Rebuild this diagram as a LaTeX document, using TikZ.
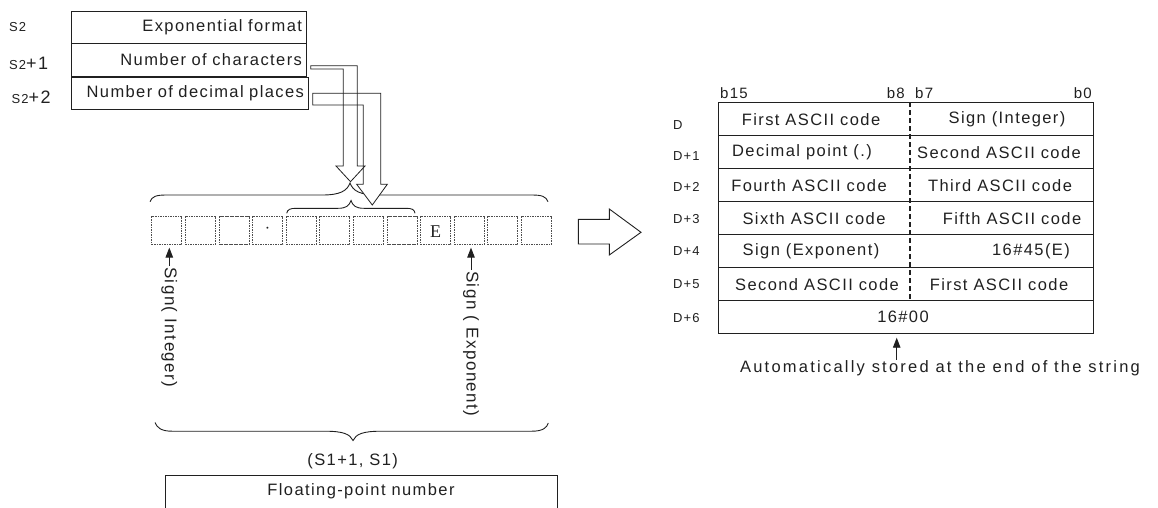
\documentclass[tikz,border=0pt]{standalone}
\usepackage{fontspec}
\setmainfont{Liberation Sans}[LetterSpace=8.5]
\newfontfamily\serifE{Liberation Serif}
\usetikzlibrary{arrows.meta,calc}
\definecolor{ink}{HTML}{202020}
\begin{document}
\begin{tikzpicture}[x=1pt,y=-1pt, font=\fontsize{16.5}{19}\selectfont, text=ink,
  lbl/.style={inner sep=0pt, anchor=west},
  srow/.style={draw=ink, line width=0.9pt, minimum height=32.6pt, anchor=north west,
    text width=226pt, align=right, inner xsep=4.5pt, inner ysep=0pt},
  dbox/.style={draw=ink!80, line width=0.6pt, dash pattern=on 1.6pt off 0.9pt,
    minimum width=30pt, minimum height=27.6pt, inner sep=0pt},
  pipe/.style={draw=ink, line width=0.8pt},
  brc/.style={draw=ink, line width=0.9pt},
  tip/.style={-{Triangle[length=10pt,width=7.5pt]}, draw=ink, line width=0.9pt},
  trow/.style={draw=ink, line width=1.4pt, minimum width=375pt, minimum height=33pt, inner sep=0pt},
  dlab/.style={font=\fontsize{13}{15}\selectfont, anchor=west, inner sep=0pt},
  blab/.style={font=\fontsize{15}{17}\selectfont, inner sep=0pt},
  vtext/.style={font=\fontsize{17}{20}\selectfont, rotate=-90, anchor=west, inner sep=1pt},
  midd/.style={draw=ink, line width=1.5pt, dash pattern=on 5pt off 3pt},
]
\useasboundingbox (0,0) rectangle (1158,507);

% ---------- source words S2 ----------
\node[srow] (r1) at (71,10.7) {Exponential format};
\node[srow] (r2) at (71,43.3) {Number of characters};
\node[srow, text width=228pt] (r3) at (71,76.6) {Number of decimal places};
\node[lbl, font=\fontsize{13}{15}\selectfont] (l1) at (9,27) {S2};
\node[lbl] (l2) at (9,63) {{\fontsize{13}{15}\selectfont S2}{\fontsize{18}{20}\selectfont +1}};
\node[lbl] (l3) at (11.5,97) {{\fontsize{13}{15}\selectfont S2}{\fontsize{18}{20}\selectfont +2}};

% ---------- character cells ----------
\foreach \i in {1,...,12}
  \node[dbox] (c\i) at ({166.7+33.6*(\i-1)},230.5) {};
\node[font=\serifE\fontsize{16}{18}\selectfont, inner sep=0pt] (dot) at (c4) {·};
\node[font=\serifE\fontsize{18}{20}\selectfont, inner sep=0pt] (E) at ($(c9)+(0,1)$) {E};

% ---------- braces ----------
\draw[brc] (150,201.7) .. controls (152,196.5) and (156,195) .. (166,195)
  -- (322,195) .. controls (340,195) and (347,191) .. (350,183)
  .. controls (353,191) and (360,195) .. (378,195)
  -- (532,195) .. controls (542,195) and (546,196.5) .. (548,201.7);
\draw[brc] (286.7,213.3) .. controls (287.5,209.5) and (290,208.3) .. (296,208.3)
  -- (338,208.3) .. controls (346,208.3) and (349,206) .. (351,200.5)
  .. controls (353,206) and (356,208.3) .. (364,208.3)
  -- (406,208.3) .. controls (412,208.3) and (414.5,209.5) .. (415,213.3);
\draw[brc] (155,422.5) .. controls (157,427.5) and (161,431.2) .. (172,431.2)
  -- (325,431.2) .. controls (343,431.2) and (350,434) .. (353,440.5)
  .. controls (356,434) and (363,431.2) .. (381,431.2)
  -- (532,431.2) .. controls (543,431.2) and (547,427.5) .. (548.3,423);

% ---------- pipes ----------
\draw[pipe, fill=white] (312.7,93.3) -- (380.7,93.3) -- (380.7,184.3) -- (387.3,184.3)
  -- (372.3,205) -- (356.7,184.3) -- (363.3,184.3) -- (363.3,105) -- (312.7,105) -- cycle;
\draw[pipe] (310.7,65.7) -- (357.3,65.7) -- (357.3,166) -- (365,166) -- (350.5,181.7)
  -- (336,166) -- (343.3,166) -- (343.3,69) -- (310.7,69) -- cycle;

% ---------- sign labels ----------
\node[vtext] (sI) at (169.3,266) {Sign( Integer)};
\node[vtext] (sE) at (471,270) {Sign ( Exponent)};
\draw[tip, shorten >=3pt] (sI.west) -- (sI.west |- c1.south);
\draw[tip, shorten >=3pt] (sE.west) -- (sE.west |- c10.south);

% ---------- floating point ----------
\node[inner sep=0pt] (s1) at (352.7,461.7) {(S1+1, S1)};
\node[draw=ink, line width=0.9pt, anchor=north, minimum width=392pt, inner ysep=0pt,
  text height=20pt, text depth=20pt] (fp) at (361,475) {Floating-point number};

% ---------- block arrow ----------
\draw[pipe, line width=0.9pt] (578.3,219.3) -- (609.3,219.3) -- (609.3,209) -- (641,232.3)
  -- (609.3,255) -- (609.3,244) -- (578.3,244) -- cycle;

% ---------- destination table ----------
\foreach \k in {0,...,6}
  \node[trow] (t\k) at (905.7,{119.2+33*\k}) {};
\coordinate (m) at (910,0);
\draw[midd] (t0.north -| m) -- (t5.south -| m);

\node[blab, anchor=west] (b15) at (720,93) {b15};
\node[blab, anchor=east] (b8) at (905,93) {b8};
\node[blab, anchor=west] (b7) at (915,93) {b7};
\node[blab, anchor=east] (b0) at (1092,93) {b0};

\node[dlab] (d0) at (673,125) {D};
\node[dlab] (d1) at (673,156) {D+1};
\node[dlab] (d2) at (673,187) {D+2};
\node[dlab] (d3) at (673,219) {D+3};
\node[dlab] (d4) at (673,251) {D+4};
\node[dlab] (d5) at (673,284) {D+5};
\node[dlab] (d6) at (673,318) {D+6};

\node (a0) at (811,119.2) {First ASCII code};
\node (e0) at (1007,119.2) {Sign (Integer)};
\node (a1) at (802,152.2) {Decimal point (.)};
\node (e1) at (999,152.2) {Second ASCII code};
\node (a2) at (809,185.2) {Fourth ASCII code};
\node (e2) at (1000,185.2) {Third ASCII code};
\node (a3) at (814,218.2) {Sixth ASCII code};
\node (e3) at (1012,218.2) {Fifth ASCII code};
\node (a4) at (811,251.2) {Sign (Exponent)};
\node (e4) at (1031,251.2) {16\#45(E)};
\node (a5) at (817,284.2) {Second ASCII code};
\node (e5) at (999,284.2) {First ASCII code};
\node (a6) at (903,317.2) {16\#00};

\node[inner ysep=1pt, font=\fontsize{16.5}{19}\selectfont\addfontfeature{LetterSpace=13.5}] (auto) at (940,368.5) {Automatically stored at the end of the string};
\coordinate (ax) at (896.7,0);
\draw[tip, shorten >=3.3pt] (auto.north -| ax) -- (t6.south -| ax);
\end{tikzpicture}
\end{document}
